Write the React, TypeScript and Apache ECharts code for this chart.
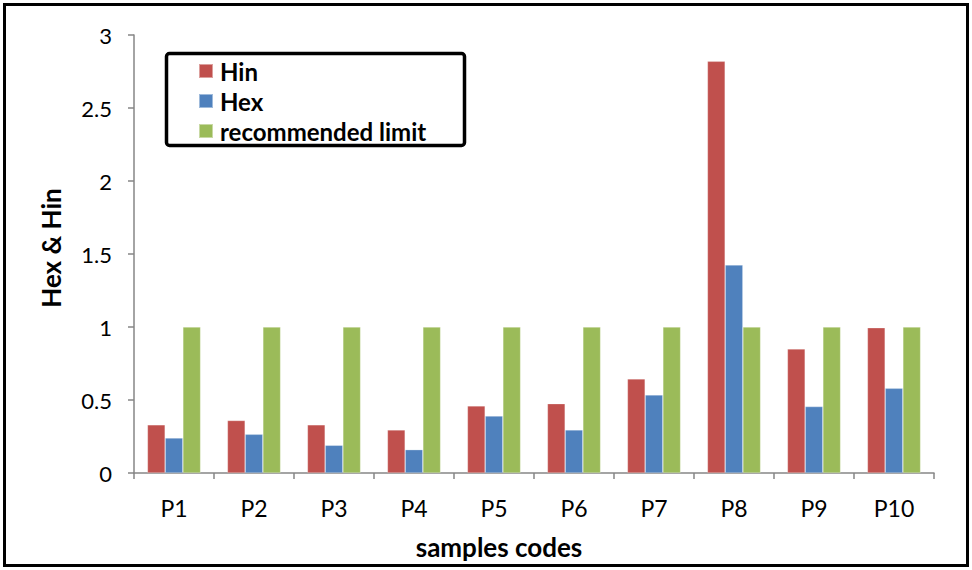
import React, { useEffect, useRef } from "react";
import * as echarts from "echarts";

const categories = ["P1", "P2", "P3", "P4", "P5", "P6", "P7", "P8", "P9", "P10"];
const hin = [0.33, 0.36, 0.33, 0.295, 0.46, 0.475, 0.645, 2.82, 0.85, 0.995];
const hex = [0.24, 0.265, 0.19, 0.16, 0.39, 0.295, 0.535, 1.425, 0.455, 0.58];
const limit = [1, 1, 1, 1, 1, 1, 1, 1, 1, 1];
const yTicks = { min: 0, max: 3, interval: 0.5 };

const FONT = "Lato, 'Open Sans', sans-serif";
const AXIS_GRAY = "#868686";

export default function App() {
  const ref = useRef<HTMLDivElement>(null);

  useEffect(() => {
    if (!ref.current) return;
    const chart = echarts.init(ref.current, undefined, { renderer: "svg" });

    const barSeries = (name: string, data: number[], color: string) => ({
      name,
      type: "bar",
      data,
      barGap: "0%",
      barCategoryGap: "33.5%",
      itemStyle: { color, borderColor: "rgba(255,255,255,0.45)", borderWidth: 0.6 },
    });

    chart.setOption({
      animation: false,
      backgroundColor: "#ffffff",
      textStyle: { fontFamily: FONT },
      grid: { left: 134, right: 38, top: 35, bottom: 97, containLabel: false },
      legend: {
        orient: "vertical",
        left: 198,
        top: 59,
        padding: 0,
        itemGap: 6,
        itemWidth: 14,
        itemHeight: 14,
        icon: "rect",
        textStyle: { fontFamily: FONT, fontWeight: "bold", fontSize: 24, color: "#000", lineHeight: 24, padding: [0, 0, 0, 2] },
        data: ["Hin", "Hex", "recommended limit"],
      },
      xAxis: {
        type: "category",
        data: categories,
        axisLine: { lineStyle: { color: AXIS_GRAY, width: 1.5 } },
        axisTick: { show: true, length: 6, lineStyle: { color: AXIS_GRAY, width: 1.5 } },
        axisLabel: { fontFamily: FONT, fontSize: 23, color: "#000", margin: 23 },
      },
      yAxis: {
        type: "value",
        min: yTicks.min,
        max: yTicks.max,
        interval: yTicks.interval,
        splitLine: { show: false },
        axisLine: { show: true, lineStyle: { color: AXIS_GRAY, width: 1.5 } },
        axisTick: { show: true, length: 6, lineStyle: { color: AXIS_GRAY, width: 1.5 } },
        axisLabel: { fontFamily: FONT, fontSize: 22, color: "#000", margin: 22 },
      },
      graphic: [
        {
          type: "rect",
          shape: { x: 4.5, y: 4.5, width: 963, height: 561 },
          style: { fill: "none", stroke: "#000", lineWidth: 3 },
          silent: true,
        },
        {
          type: "rect",
          shape: { x: 166.5, y: 53.5, width: 298, height: 92, r: 3 },
          style: { fill: "none", stroke: "#000", lineWidth: 3.5 },
          silent: true,
        },
        {
          type: "text",
          x: 51,
          y: 248,
          rotation: Math.PI / 2,
          style: {
            text: "Hex & Hin",
            fontFamily: FONT,
            fontWeight: "bold",
            fontSize: 26,
            fill: "#000",
            align: "center",
            verticalAlign: "middle",
          },
        },
        {
          type: "text",
          x: 499,
          y: 547,
          style: {
            text: "samples codes",
            fontFamily: FONT,
            fontWeight: "bold",
            fontSize: 26,
            fill: "#000",
            align: "center",
            verticalAlign: "middle",
          },
        },
      ],
      series: [
        barSeries("Hin", hin, "#C0504D"),
        barSeries("Hex", hex, "#4F81BD"),
        barSeries("recommended limit", limit, "#9BBB59"),
      ],
    });

    return () => chart.dispose();
  }, []);

  return (
    <div
      ref={ref}
      style={{ position: "fixed", left: 0, top: 0, width: 972, height: 570, background: "#fff" }}
    />
  );
}
